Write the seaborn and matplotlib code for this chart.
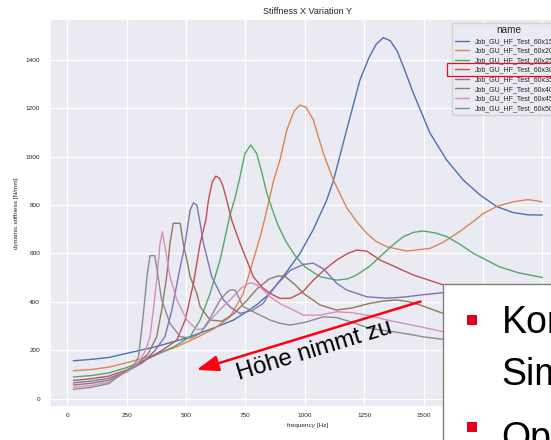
import seaborn as sns
import matplotlib.pyplot as plt
import pandas as pd
from matplotlib.patches import Rectangle, FancyArrowPatch

# frequency [Hz] and dynamic stiffness [N/mm], one pair per variant
f15 = [25, 100, 175, 250, 375, 500, 625, 700, 755, 800, 853, 920, 980, 1036, 1092, 1120, 1176, 1232,
       1270, 1300, 1330, 1360, 1390, 1420, 1457, 1527, 1597, 1667, 1738, 1808, 1878, 1940, 2000]
s15 = [156, 162, 170, 187, 215, 250, 295, 325, 359, 390, 435, 520, 601, 700, 821, 900, 1111, 1318,
       1410, 1465, 1493, 1480, 1435, 1360, 1263, 1098, 987, 904, 842, 794, 769, 760, 759]

f20 = [25, 100, 175, 250, 350, 450, 550, 620, 685, 741, 783, 815, 840, 868, 896, 924, 955, 980, 1005,
       1036, 1078, 1120, 1176, 1220, 1261, 1300, 1345, 1429, 1527, 1580, 1640, 1700, 1752, 1810, 1878,
       1940, 2000]
s20 = [115, 120, 130, 148, 175, 210, 255, 290, 338, 435, 573, 680, 780, 900, 990, 1111, 1190, 1214, 1205,
       1152, 1014, 904, 790, 730, 683, 650, 628, 610, 621, 645, 683, 725, 766, 795, 814,
       823, 814]

f25 = [25, 100, 175, 250, 350, 450, 517, 559, 601, 643, 685, 706, 727, 748, 772, 797, 820, 840, 860,
       888, 920, 960, 1000, 1064, 1134, 1180, 1218, 1270, 1317, 1370, 1415, 1460, 1499, 1550, 1597,
       1650, 1709, 1770, 1819, 1900, 2000]
s25 = [89, 95, 106, 128, 170, 215, 256, 325, 435, 573, 760, 830, 918, 1014, 1049, 1014, 930, 850, 790,
       715, 650, 590, 545, 504, 490, 495, 511, 545, 587, 635, 670, 688, 693, 685, 670,
       640, 601, 570, 545, 520, 501]

f30 = [25, 100, 175, 250, 330, 400, 461, 496, 531, 559, 583, 594, 610, 625, 640, 655, 671, 692, 727,
       783, 820, 853, 896, 940, 990, 1036, 1085, 1134, 1180, 1218, 1260, 1317, 1380, 1457, 1583, 1700,
       1850, 2000]
s30 = [75, 82, 93, 118, 160, 200, 242, 325, 477, 642, 738, 821, 895, 920, 912, 880, 821, 738, 642,
       504, 460, 435, 414, 415, 440, 490, 535, 573, 600, 614, 610, 573, 545, 511, 470, 445,
       420, 405]

f35 = [25, 100, 175, 250, 320, 370, 411, 440, 467, 496, 517, 531, 545, 560, 573, 608, 657, 690, 727,
       780, 825, 853, 900, 938, 994, 1036, 1080, 1134, 1176, 1218, 1261, 1345, 1420, 1485, 1583, 1700,
       1850, 2000]
s35 = [65, 72, 84, 112, 150, 200, 256, 366, 504, 642, 780, 810, 800, 720, 642, 504, 408, 375, 352,
       365, 394, 440, 490, 530, 555, 560, 535, 477, 449, 435, 421, 415, 420, 428, 438, 448,
       455, 460]

f40 = [25, 100, 175, 250, 300, 340, 376, 397, 418, 432, 446, 475, 488, 503, 517, 545, 559, 601, 650,
       700, 750, 800, 850, 888, 917, 960, 994, 1064, 1134, 1200, 1274, 1330, 1387, 1440, 1485, 1583,
       1700, 1850, 2000]
s40 = [56, 63, 76, 110, 150, 185, 256, 366, 504, 642, 725, 725, 642, 573, 504, 435, 380, 325, 320,
       350, 400, 455, 495, 507, 505, 470, 435, 387, 366, 375, 394, 403, 408, 400, 387, 352,
       320, 290, 265]

f45 = [25, 100, 175, 250, 300, 330, 348, 362, 377, 390, 400, 411, 432, 461, 503, 545, 575, 615, 650,
       685, 730, 769, 800, 825, 853, 900, 938, 994, 1064, 1134, 1200, 1260, 1345, 1485, 1583, 1700,
       1850, 2000]
s45 = [46, 54, 68, 112, 150, 200, 256, 366, 500, 640, 690, 628, 504, 408, 325, 285, 290, 338, 375,
       408, 455, 479, 470, 449, 421, 390, 373, 345, 345, 359, 355, 345, 325, 297, 276, 262,
       248, 235]

f50 = [25, 100, 175, 250, 280, 300, 320, 336, 348, 368, 378, 397, 432, 475, 520, 560, 600, 643, 671,
       685, 706, 741, 797, 853, 896, 938, 1000, 1078, 1134, 1200, 1274, 1345, 1415, 1500, 1583, 1700,
       1850, 2000]
s50 = [38, 46, 62, 118, 135, 175, 350, 510, 591, 591, 530, 408, 311, 256, 250, 270, 330, 408, 438,
       449, 449, 380, 352, 325, 311, 304, 315, 338, 335, 315, 290, 280, 270, 255, 245, 235,
       222, 210]

names = ['Job_GU_HF_Test_60x15cm', 'Job_GU_HF_Test_60x20cm', 'Job_GU_HF_Test_60x25cm',
         'Job_GU_HF_Test_60x30cm', 'Job_GU_HF_Test_60x35cm', 'Job_GU_HF_Test_60x40cm',
         'Job_GU_HF_Test_60x45cm', 'Job_GU_HF_Test_60x50cm']
freqs = [f15, f20, f25, f30, f35, f40, f45, f50]
stiffs = [s15, s20, s25, s30, s35, s40, s45, s50]

# x ticks; the last two sit under the text panel of the slide
xticks = [0, 250, 500, 750, 1000, 1250, 1500, 1750, 2000]
xticklabels = ['0', '250', '500', '750', '1000', '1250', '1500', '', '']

rows = []
for name, f, s in zip(names, freqs, stiffs):
    for fi, si in zip(f, s):
        rows.append((name, fi, si))
df = pd.DataFrame(rows, columns=['name', 'frequency', 'stiffness'])

sns.set_theme(style='darkgrid')
plt.rcParams['font.family'] = ['Liberation Sans', 'DejaVu Sans']

fig = plt.figure(figsize=(5.51, 4.4), dpi=100)
# the slide is a crop, so the axes run past the right edge
ax = fig.add_axes([0.0904, 0.075, 0.9365, 0.8818])

sns.lineplot(data=df, x='frequency', y='stiffness', hue='name', hue_order=names,
             errorbar=None, linewidth=1.0, ax=ax)

ax.set_xlim(-74, 2099)
ax.set_ylim(-35, 1570)
ax.set_xticks(xticks, labels=xticklabels)
ax.set_yticks(range(0, 1401, 200))
ax.grid(linewidth=0.8)
ax.tick_params(length=0)
ax.tick_params(axis='x', labelsize=4.6, pad=4)
ax.tick_params(axis='y', labelsize=4.6, pad=7)
ax.set_xlabel('frequency [Hz]', fontsize=4.6, labelpad=4)
ax.set_ylabel('dynamic stiffness [N/mm]', fontsize=4.6, labelpad=4.5)
ax.set_title('Stiffness X Variation Y', fontsize=6.5, pad=3.5)

sns.move_legend(ax, loc='upper left', bbox_to_anchor=(0.7789, 0.9905), borderaxespad=0,
                fontsize=5.0, title_fontsize=7.2, labelspacing=0.37, handlelength=2.1)

# slide overlays: highlight box, arrow + caption, text panel
fig.add_artist(Rectangle((0.8107, 0.8273), 0.25, 0.0295, transform=fig.transFigure,
                         fill=False, edgecolor='#e8101c', linewidth=0.9, zorder=5))

fig.add_artist(FancyArrowPatch((0.7682, 0.3166), (0.3521, 0.1575), transform=fig.transFigure,
                               arrowstyle='-|>,head_length=1.1,head_width=0.4', mutation_scale=12,
                               color='#ff0010', linewidth=1.8, zorder=5))
fig.text(0.4345, 0.1364, 'Höhe nimmt zu', fontsize=17.3, rotation=17, rotation_mode='anchor',
         ha='left', va='baseline', color='black', zorder=6)

fig.add_artist(Rectangle((0.8045, -0.05), 0.3, 0.4045, transform=fig.transFigure,
                         facecolor='white', edgecolor='#808080', linewidth=1.0, zorder=7))
fig.add_artist(Rectangle((0.847, 0.2614), 0.01815, 0.0227, transform=fig.transFigure,
                         facecolor='#e3001b', edgecolor='none', zorder=8))
fig.add_artist(Rectangle((0.847, 0.0182), 0.01815, 0.0227, transform=fig.transFigure,
                         facecolor='#e3001b', edgecolor='none', zorder=8))
fig.text(0.9105, 0.2424, 'Kon', fontsize=27, color='black', zorder=9)
fig.text(0.9105, 0.125, 'Sim', fontsize=27, color='black', zorder=9)
fig.text(0.9105, -0.0198, 'Op', fontsize=27, color='black', zorder=9)

fig.savefig('out.png', dpi=100)
